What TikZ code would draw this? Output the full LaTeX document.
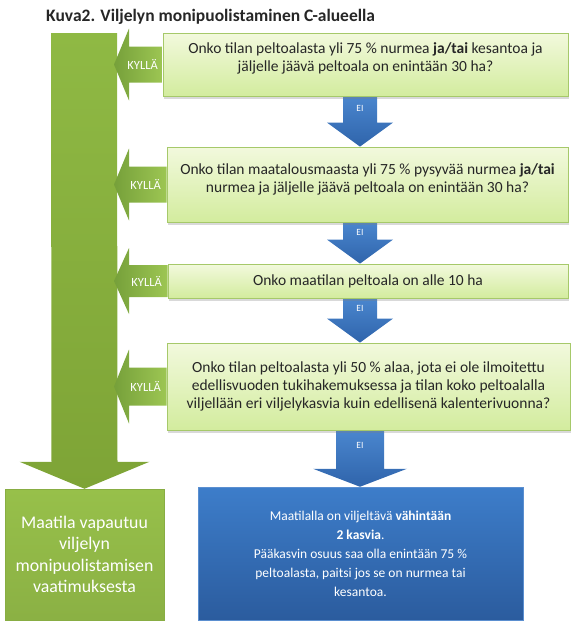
\documentclass[tikz,border=0pt]{standalone}
\usepackage{fontspec}
\setmainfont{Carlito}
\usetikzlibrary{calc,shadows,backgrounds}
\usepackage{xcolor}
\definecolor{ink}{HTML}{262626}
\definecolor{qtop}{HTML}{F2F9DD}
\definecolor{qbot}{HTML}{D3EC9E}
\definecolor{qline}{HTML}{A6C96A}
\definecolor{leaf}{HTML}{97C04A}
\definecolor{leaflight}{HTML}{9DC653}
\definecolor{leafdark}{HTML}{76A03A}
\definecolor{trunklight}{HTML}{8FB944}
\definecolor{trunkdark}{HTML}{7EA436}
\definecolor{bluetop}{HTML}{3D7DCA}
\definecolor{bluebot}{HTML}{2B5C9E}
\definecolor{blueline}{HTML}{5B8FD0}
\definecolor{eitop}{HTML}{4A86CE}
\definecolor{eibot}{HTML}{2F64AB}
\tikzset{
  every node/.style={text=ink},
  title/.style={font=\bfseries\fontsize{17.5}{20}\selectfont,inner sep=0pt},
  qbox/.style={draw=qline,line width=0.8pt,top color=qtop,bottom color=qbot,align=center,
    font=\fontsize{15.5}{18}\selectfont,inner sep=0pt,
    drop shadow={shadow xshift=0.5pt,shadow yshift=-2.5pt,opacity=0.3}},
  freebox/.style={draw=leaf!90!black,line width=0.5pt,top color=leaf,bottom color=leaf!92!black,
    text=white,align=center,font=\fontsize{17.8}{21.5}\selectfont,inner sep=0pt,
    drop shadow={shadow xshift=0.5pt,shadow yshift=-2pt,opacity=0.3}},
  mustbox/.style={draw=blueline,line width=0.5pt,top color=bluetop,bottom color=bluebot,
    text=white,align=center,font=\fontsize{13.5}{19}\selectfont,inner sep=0pt,
    drop shadow={shadow xshift=0.5pt,shadow yshift=-2pt,opacity=0.3}},
  trunkarrow/.style={top color=trunklight,bottom color=trunkdark},
  yesarrow/.style={left color=leafdark,right color=leaflight},
  eiarrow/.style={top color=eitop,bottom color=eibot},
  yeslabel/.style={text=white,font=\fontsize{12.5}{14}\selectfont,inner sep=0pt},
  eilabel/.style={text=white,font=\fontsize{9.5}{11}\selectfont,inner sep=0pt},
}

\begin{document}
\begin{tikzpicture}[x=1pt,y=-1pt]
  \useasboundingbox (0,0) rectangle (571,621);
  \node[title,anchor=west] (title) at (46,17) {Kuva2. Viljelyn monipuolistaminen C-alueella};

  \node[qbox,minimum width=405pt,minimum height=63pt] (q1) at (365.5,64.5)
    {Onko tilan peltoalasta yli 75 \% nurmea \textbf{ja/tai} kesantoa ja\\jäljelle jäävä peltoala on enintään 30 ha?\\[-4pt]\mbox{}};
  \node[qbox,minimum width=401pt,minimum height=75pt] (q2) at (367.5,184.5)
    {Onko tilan maatalousmaasta yli 75 \% pysyvää nurmea \textbf{ja/tai}\\nurmea ja jäljelle jäävä peltoala on enintään 30 ha?\\[-6pt]\mbox{}};
  \node[qbox,minimum width=400pt,minimum height=34pt] (q3) at (368,281)
    {Onko maatilan peltoala on alle 10 ha};
  \node[qbox,minimum width=403pt,minimum height=87pt] (q4) at (368.5,386.5)
    {Onko tilan peltoalasta yli 50 \% alaa, jota ei ole ilmoitettu\\edellisvuoden tukihakemuksessa ja tilan koko peltoalalla\\viljellään eri viljelykasvia kuin edellisenä kalenterivuonna?};

  \node[freebox,minimum width=159pt,minimum height=131pt] (free) at (84.5,554.5)
    {Maatila vapautuu\\viljelyn\\monipuolistamisen\\vaatimuksesta};
  \node[mustbox,minimum width=325pt,minimum height=133pt] (must) at (360.5,553.5)
    {Maatilalla on viljeltävä \textbf{vähintään}\\\textbf{2 kasvia}.\\Pääkasvin osuus saa olla enintään 75 \%\\peltoalasta, paitsi jos se on nurmea tai\\kesantoa.};

  \coordinate (trunktop) at (84,33);
  \coordinate (trunk) at (114,0);
  \coordinate (spine) at (360,0);

  \begin{scope}[on background layer]
    \path[trunkarrow] ($(trunktop)+(-33,0)$) -- ++(66,0) -- ($(free.north)+(33,-27)$) -- ++(32,0)
      -- (free.north) -- ++(-65,-27) -- ++(32,0) -- cycle;

    \path[yesarrow] ($(q1.west)+(0,-18)$) -- ($(trunk|-q1.west)+(15,-18)$) -- ++(0,-18) -- (trunk|-q1.west)
      -- ++(15,36) -- ++(0,-18) -- ($(q1.west)+(0,18)$) -- cycle;
    \path[yesarrow] ($(q2.west)+(0,-18)$) -- ($(trunk|-q2.west)+(15,-18)$) -- ++(0,-18) -- (trunk|-q2.west)
      -- ++(15,36) -- ++(0,-18) -- ($(q2.west)+(0,18)$) -- cycle;
    \path[yesarrow] ($(q3.west)+(0,-16)$) -- ($(trunk|-q3.west)+(15,-16)$) -- ++(0,-17) -- (trunk|-q3.west)
      -- ++(15,33) -- ++(0,-17) -- ($(q3.west)+(0,16)$) -- cycle;
    \path[yesarrow] ($(q4.west)+(0,-19)$) -- ($(trunk|-q4.west)+(15,-19)$) -- ++(0,-18) -- (trunk|-q4.west)
      -- ++(15,37) -- ++(0,-18) -- ($(q4.west)+(0,19)$) -- cycle;

    \path[eiarrow] ($(spine|-q1.south)+(-17,0)$) -- ++(34,0) -- ($(spine|-q2.north)+(17,-24)$) -- ++(16,0)
      -- (spine|-q2.north) -- ++(-33,-24) -- ++(16,0) -- cycle;
    \path[eiarrow] ($(spine|-q2.south)+(-17,0)$) -- ++(34,0) -- ($(spine|-q3.north)+(17,-24)$) -- ++(16,0)
      -- (spine|-q3.north) -- ++(-33,-24) -- ++(16,0) -- cycle;
    \path[eiarrow] ($(spine|-q3.south)+(-17,0)$) -- ++(34,0) -- ($(spine|-q4.north)+(17,-24)$) -- ++(16,0)
      -- (spine|-q4.north) -- ++(-33,-24) -- ++(16,0) -- cycle;
    \path[eiarrow] ($(spine|-q4.south)+(-24,0)$) -- ++(48,0) -- ($(spine|-must.north)+(24,-18)$) -- ++(23,0)
      -- (spine|-must.north) -- ++(-47,-18) -- ++(23,0) -- cycle;
  \end{scope}

  \node[yeslabel] (y1) at ($(q1.west)+(-20,0)$) {KYLLÄ};
  \node[yeslabel] (y2) at ($(q2.west)+(-21,0)$) {KYLLÄ};
  \node[yeslabel] (y3) at ($(q3.west)+(-21,0)$) {KYLLÄ};
  \node[yeslabel] (y4) at ($(q4.west)+(-21,0)$) {KYLLÄ};

  \node[eilabel] (ei1) at ($(spine|-q1.south)+(0,12)$) {EI};
  \node[eilabel] (ei2) at ($(spine|-q2.south)+(0,10)$) {EI};
  \node[eilabel] (ei3) at ($(spine|-q3.south)+(0,10)$) {EI};
  \node[eilabel] (ei4) at ($(spine|-q4.south)+(0,15)$) {EI};
\end{tikzpicture}
\end{document}
